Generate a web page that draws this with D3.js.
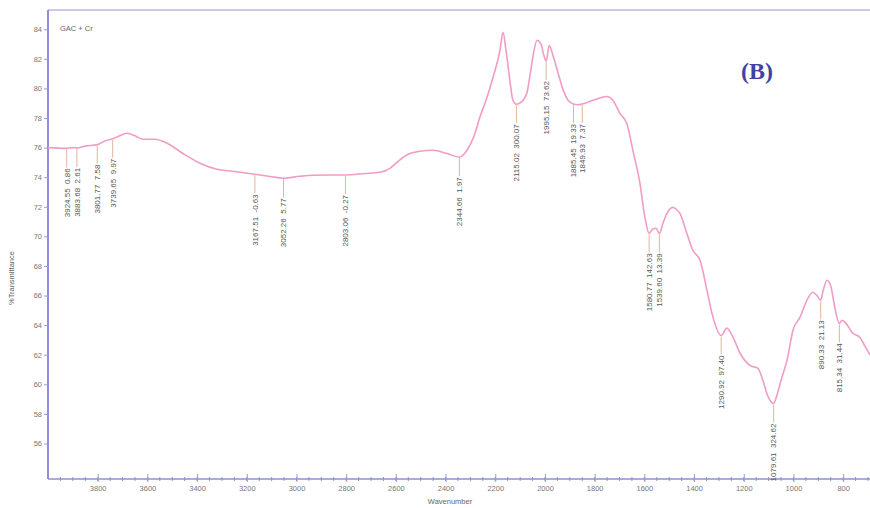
<!DOCTYPE html>
<html>
<head>
<meta charset="utf-8">
<script src="https://cdn.jsdelivr.net/npm/d3@7"></script>
<style>
  body { margin: 0; background: #fff; }
  svg { display: block; font-family: "Liberation Sans", Arial, sans-serif; }
</style>
</head>
<body>
<div class="container"></div>
<script>
// Spectrum (wavenumber, %T)
const wavenumbers = [
  4000, 3924.55, 3903, 3883.68, 3851, 3801.77, 3771, 3739.65, 3718, 3682, 3650, 3618, 3569, 3521,
  3457, 3388, 3320, 3256, 3167.51, 3107, 3052.26, 2986, 2934, 2865, 2803.06, 2724, 2664, 2624,
  2596, 2551, 2503, 2451, 2394, 2344.66, 2314, 2285, 2262, 2233, 2209, 2181, 2169, 2157, 2141,
  2129, 2115.02, 2097, 2073, 2061, 2048, 2032, 2016, 2004, 1995.15, 1983, 1971, 1955, 1927, 1907,
  1885.45, 1867, 1849.93, 1807, 1779, 1751, 1727, 1698, 1670, 1646, 1618, 1598, 1580.77, 1566,
  1553, 1539.6, 1525, 1509, 1485, 1469, 1457, 1429, 1405, 1376, 1348, 1328, 1290.92, 1268, 1244,
  1215, 1175, 1143, 1123, 1103, 1079.61, 1066, 1046, 1026, 1002, 974, 942, 922, 906, 890.33, 881,
  865, 849, 837, 815.34, 805, 793, 761, 733, 713, 692
];
const transmittance = [
  76.0, 75.95, 76.0, 75.98, 76.1, 76.2, 76.45, 76.6, 76.75, 76.97, 76.8, 76.56, 76.56, 76.3,
  75.6, 74.94, 74.53, 74.4, 74.2, 74.05, 73.93, 74.06, 74.13, 74.15, 74.15, 74.25, 74.33, 74.6,
  75.0, 75.55, 75.75, 75.82, 75.6, 75.35, 75.82, 76.8, 78.05, 79.4, 80.75, 82.58, 83.8, 82.6, 80.5,
  79.2, 78.93, 79.05, 79.67, 80.8, 82.2, 83.26, 83.0, 82.2, 81.85, 82.9, 82.4, 81.5, 79.9, 79.2,
  78.95, 78.9, 78.95, 79.2, 79.35, 79.45, 79.2, 78.3, 77.6, 75.8, 73.6, 71.3, 70.2, 70.5,
  70.55, 70.2, 70.9, 71.56, 71.96, 71.8, 71.56, 70.2, 69.06, 68.38, 66.35, 64.8, 63.3, 63.8, 63.2,
  62.1, 61.28, 61.08, 60.27, 59.2, 58.7, 59.3, 60.5, 61.62, 63.65, 64.53, 65.81, 66.22, 66.0, 65.68, 66.3,
  67.03, 66.6, 65.5, 64.12, 64.33, 64.2, 63.45, 63.18, 62.6, 62.0
];

// Peak picks
const peakWavenumbers = [3924.55, 3883.68, 3801.77, 3739.65, 3167.51, 3052.26, 2803.06, 2344.66,
  2115.02, 1995.15, 1885.45, 1849.93, 1580.77, 1539.6, 1290.92, 1079.61, 890.33, 815.34];
const peakLabels = ["3924.55  0.86", "3883.68  2.61", "3801.77  7.58", "3739.65  9.97",
  "3167.51  -0.63", "3052.26  5.77", "2803.06  -0.27", "2344.66  1.97", "2115.02  300.07",
  "1995.15  73.62", "1885.45  19.33", "1849.93  7.37", "1580.77  142.63", "1539.60  13.39",
  "1290.92  97.40", "1079.61  324.62", "890.33  21.13", "815.34  31.44"];

// Tick labels
const yTicks = [56, 58, 60, 62, 64, 66, 68, 70, 72, 74, 76, 78, 80, 82, 84];
const xTicks = [3800, 3600, 3400, 3200, 3000, 2800, 2600, 2400, 2200, 2000, 1800, 1600, 1400, 1200, 1000, 800];

const WIDTH = 870;
const HEIGHT = 508;
const LEFT = 48;
const TOP = 10;
const BOTTOM = 479;

const svg = d3.select(".container").append("svg")
  .attr("width", WIDTH)
  .attr("height", HEIGHT);

const x = d3.scaleLinear().domain([4000, 692]).range([LEFT, WIDTH]);
const y = d3.scaleLinear().domain([53.6, 85.3]).range([BOTTOM, TOP]);

const points = wavenumbers.map((w, i) => [w, transmittance[i]]);

// Frame: top border
svg.append("line")
  .attr("x1", LEFT).attr("x2", WIDTH)
  .attr("y1", TOP).attr("y2", TOP)
  .attr("stroke", "#c9c9ee").attr("stroke-width", 2);

// Y axis
const yAxis = svg.append("g")
  .attr("transform", `translate(${LEFT},0)`)
  .call(d3.axisLeft(y).tickValues(yTicks).tickFormat(d3.format("d")).tickSize(4).tickPadding(2));
yAxis.select(".domain").attr("stroke", "#8f8fd4").attr("stroke-width", 2)
  .attr("d", `M0,${TOP}V${BOTTOM}`);
yAxis.selectAll(".tick line").attr("stroke", "#9a9ad6");
yAxis.selectAll(".tick text").attr("fill", "#777").attr("font-size", 7.5)
  .style("font-family", "'Liberation Sans', Arial, sans-serif");

// X axis: minor ticks then major ticks
const minor = d3.range(3950, 691, -50);
svg.append("g")
  .selectAll("line")
  .data(minor)
  .join("line")
  .attr("x1", d => x(d)).attr("x2", d => x(d))
  .attr("y1", BOTTOM - 2).attr("y2", BOTTOM + 2)
  .attr("stroke", "#8f8fd4");

const xAxis = svg.append("g")
  .attr("transform", `translate(0,${BOTTOM})`)
  .call(d3.axisBottom(x).tickValues(xTicks).tickFormat(d3.format("d")).tickSize(3).tickPadding(4));
xAxis.select(".domain").attr("stroke", "#8f8fd4").attr("stroke-width", 1.5)
  .attr("d", `M${LEFT},0H${WIDTH}`);
xAxis.selectAll(".tick line").attr("stroke", "#9a9ad6").attr("y1", -5);
xAxis.selectAll(".tick text").attr("fill", "#777").attr("font-size", 7.5)
  .style("font-family", "'Liberation Sans', Arial, sans-serif");

// Axis titles
svg.append("text")
  .attr("x", 450).attr("y", 504)
  .attr("text-anchor", "middle")
  .attr("font-size", 7.5).attr("fill", "#666")
  .text("Wavenumber");

svg.append("text")
  .attr("transform", "translate(14,278) rotate(-90)")
  .attr("text-anchor", "middle")
  .attr("font-size", 7.5).attr("fill", "#666")
  .text("%Transmittance");

// Sample name and panel letter
svg.append("text")
  .attr("x", 60).attr("y", 31)
  .attr("font-size", 7.5).attr("fill", "#666")
  .text("GAC + Cr");

svg.append("text")
  .attr("x", 741).attr("y", 79)
  .style("font-family", "'Liberation Serif', 'DejaVu Serif', serif")
  .attr("font-weight", "bold")
  .attr("font-size", 24).attr("fill", "#3f43a3")
  .text("(B)");

// Spectrum line
const line = d3.line()
  .x(d => x(d[0]))
  .y(d => y(d[1]))
  .curve(d3.curveMonotoneX);

svg.append("path")
  .datum(points)
  .attr("fill", "none")
  .attr("stroke", "#f19cc4")
  .attr("stroke-width", 1.6)
  .attr("d", line);

// Peak markers
const peaks = peakWavenumbers.map((w, i) => ({
  w: w,
  t: points.find(p => p[0] === w)[1],
  label: peakLabels[i],
}));

const marks = svg.append("g").attr("class", "peaks");

marks.selectAll("line")
  .data(peaks)
  .join("line")
  .attr("x1", d => x(d.w)).attr("x2", d => x(d.w))
  .attr("y1", d => y(d.t) + 1)
  .attr("y2", d => y(d.t) + 19)
  .attr("stroke", "#e2b49c")
  .attr("stroke-width", 1);

marks.selectAll("text")
  .data(peaks)
  .join("text")
  .attr("transform", d => `translate(${x(d.w)},${y(d.t) + 20}) rotate(-90)`)
  .attr("text-anchor", "end")
  .attr("dy", "0.35em")
  .attr("font-size", 8)
  .attr("fill", "#555")
  .style("white-space", "pre")
  .text(d => d.label);
</script>
</body>
</html>
